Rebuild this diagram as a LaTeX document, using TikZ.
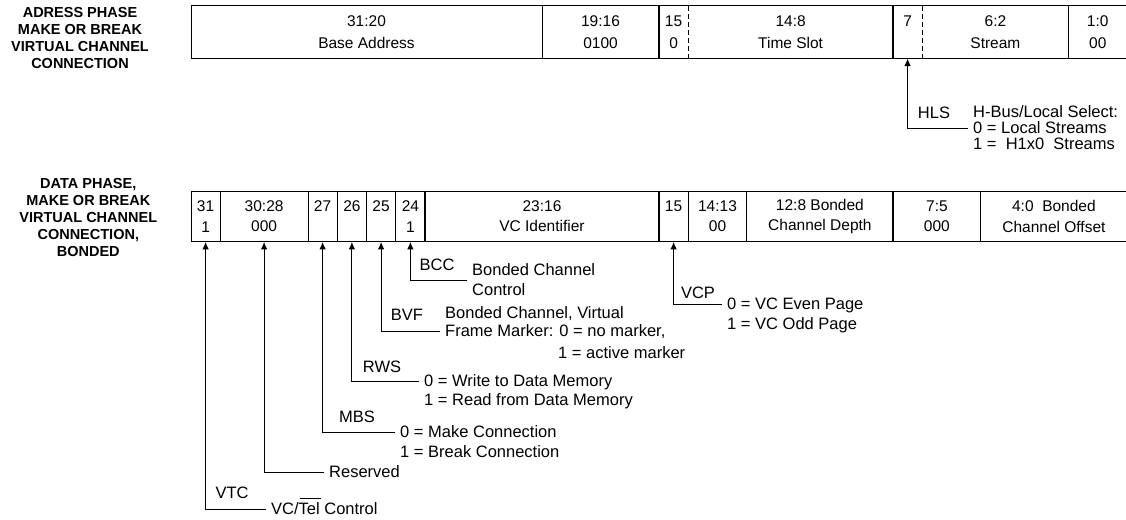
\documentclass[tikz,border=0pt]{standalone}
\usepackage{fontspec}
\setmainfont{Liberation Sans}
\usetikzlibrary{arrows.meta,calc}
\newcommand\myovl[1]{\leavevmode\setbox0\hbox{#1}\rlap{\kern1.5pt\raisebox{15pt}{\rule{\wd0}{0.8pt}}}\box0}
\begin{document}
\begin{tikzpicture}[x=1pt,y=-1pt,
  every node/.style={inner sep=0pt},
  boxline/.style={line width=1pt},
  thickdiv/.style={line width=2pt},
  dashdiv/.style={line width=0.8pt, dash pattern=on 5pt off 3pt},
  cellT/.style={align=center, minimum width=#1pt, minimum height=52.3pt, font=\fontsize{15.5}{21.5}\selectfont},
  cellB/.style={align=center, minimum width=#1pt, minimum height=50.7pt, font=\fontsize{15.5}{20.6}\selectfont, execute at begin node={\rule{0pt}{14.5pt}}},
  side/.style={align=center, font=\bfseries\fontsize{14.5}{17}\selectfont},
  ann/.style={anchor=west, font=\fontsize{16.5}{19.5}\selectfont, text height=12pt, text depth=2pt},
  tag/.style={anchor=center, font=\fontsize{16.5}{19.5}\selectfont, text height=12pt, text depth=2pt},
  conn/.style={line width=1pt, shorten <=5pt, -{Latex[length=7.5pt,width=6.5pt]}},
]
\useasboundingbox (0,0) rectangle (1126,519);

% side labels
\node[side] (labA) at (80,38.2) {ADRESS PHASE\\MAKE OR BREAK\\VIRTUAL CHANNEL\\CONNECTION};
\node[side] (labD) at (88.3,217.8) {DATA PHASE,\\MAKE OR BREAK\\VIRTUAL CHANNEL\\CONNECTION,\\BONDED};

% top register
\draw[boxline] (191,6) rectangle (1127,58.3);
\draw[boxline] (542,6) -- (542,58.3);
\draw[thickdiv] (659,6) -- (659,58.3);
\draw[dashdiv] (688.25,6) -- (688.25,58.3);
\draw[thickdiv] (893,6) -- (893,58.3);
\draw[dashdiv] (922.25,6) -- (922.25,58.3);
\draw[boxline] (1068.5,6) -- (1068.5,58.3);

\node[cellT=351] (t1) at (366.5,32.15) {31:20\\Base Address};
\node[cellT=117] (t2) at (600.5,32.15) {19:16\\0100};
\node[cellT=29.25] (t3) at (673.6,32.15) {15\\0};
\node[cellT=204.75] (t4) at (790.6,32.15) {14:8\\Time Slot};
\node[cellT=29.25] (t5) at (907.6,32.15) {7\\\phantom{0}};
\node[cellT=146.25] (t6) at (995.4,32.15) {6:2\\Stream};
\node[cellT=58.5] (t7) at (1097.75,32.15) {1:0\\00};

% bottom register
\draw[boxline] (191,191) rectangle (1127,241.7);
\foreach \xx in {220.25,308,337.25,366.5,395.75,688.25,746.75,980.75}
  \draw[boxline] (\xx,191) -- (\xx,241.7);
\foreach \xx in {425,659,893}
  \draw[thickdiv] (\xx,191) -- (\xx,241.7);

\node[cellB=29.25] (b31) at (205.6,216.35) {31\\1};
\node[cellB=87.75] (b30) at (264.1,216.35) {30:28\\000};
\node[cellB=29.25] (b27) at (322.6,216.35) {27\\\phantom{0}};
\node[cellB=29.25] (b26) at (351.9,216.35) {26\\\phantom{0}};
\node[cellB=29.25] (b25) at (381.1,216.35) {25\\\phantom{0}};
\node[cellB=29.25] (b24) at (410.4,216.35) {24\\1};
\node[cellB=234] (b23) at (542,216.35) {23:16\\VC Identifier};
\node[cellB=29.25] (b15) at (673.6,216.35) {15\\\phantom{0}};
\node[cellB=58.5] (b14) at (717.5,216.35) {14:13\\00};
\node[cellB=146.25] (b12) at (819.9,216.35) {12:8 Bonded\\Channel Depth};
\node[cellB=87.75] (b7) at (936.9,216.35) {7:5\\000};
\node[cellB=146.25] (b4) at (1053.9,216.35) {4:0\ \ Bonded\\Channel Offset};

% HLS
\node[tag] (hlsT) at (934,113) {HLS};
\node[ann] (hls0) at (973,112) {H-Bus/Local Select:};
\node[ann] (hls1) at (973,128) {0 = Local Streams};
\node[ann] (hls2) at (973,144) {1 =\ \ H1x0\ \ Streams};
\draw[conn] (hls1.west) -| (t5.south);

% BCC
\node[tag] (bccT) at (437,265) {BCC};
\node[ann] (bcc0) at (472,270) {Bonded Channel};
\node[ann] (bcc1) at (472,290) {Control};
\draw[conn] ($(bcc0.west)!0.5!(bcc1.west)$) -| (b24.south);

% BVF
\node[tag] (bvfT) at (407,315) {BVF};
\node[ann] (bvf0) at (445,313.3) {Bonded Channel, Virtual};
\node[ann] (bvf1) at (445,331.5) {Frame Marker: 0 = no marker,};
\node[ann] (bvf2) at (558,353.3) {1 = active marker};
\draw[conn] (bvf1.west) -| (b25.south);

% VCP
\node[tag] (vcpT) at (698,293) {VCP};
\node[ann] (vcp0) at (727,304) {0 = VC Even Page};
\node[ann] (vcp1) at (727,324) {1 = VC Odd Page};
\draw[conn] (vcp0.west) -| (b15.south);

% RWS
\node[tag] (rwsT) at (382,367) {RWS};
\node[ann] (rws0) at (424,381.5) {0 = Write to Data Memory};
\node[ann] (rws1) at (424,400) {1 = Read from Data Memory};
\draw[conn] (rws0.west) -| (b26.south);

% MBS
\node[tag] (mbsT) at (357,417) {MBS};
\node[ann] (mbs0) at (400,432.5) {0 = Make Connection};
\node[ann] (mbs1) at (400,452) {1 = Break Connection};
\draw[conn] (mbs0.west) -| (b27.south);

% Reserved
\node[ann] (res) at (329,472) {Reserved};
\draw[conn] (res.west) -| (b30.south);

% VTC
\node[tag] (vtcT) at (232,493) {VTC};
\node[ann] (vtc0) at (271,509) {VC/\myovl{Tel}\ Control};
\draw[conn] (vtc0.west) -| (b31.south);
\end{tikzpicture}
\end{document}
